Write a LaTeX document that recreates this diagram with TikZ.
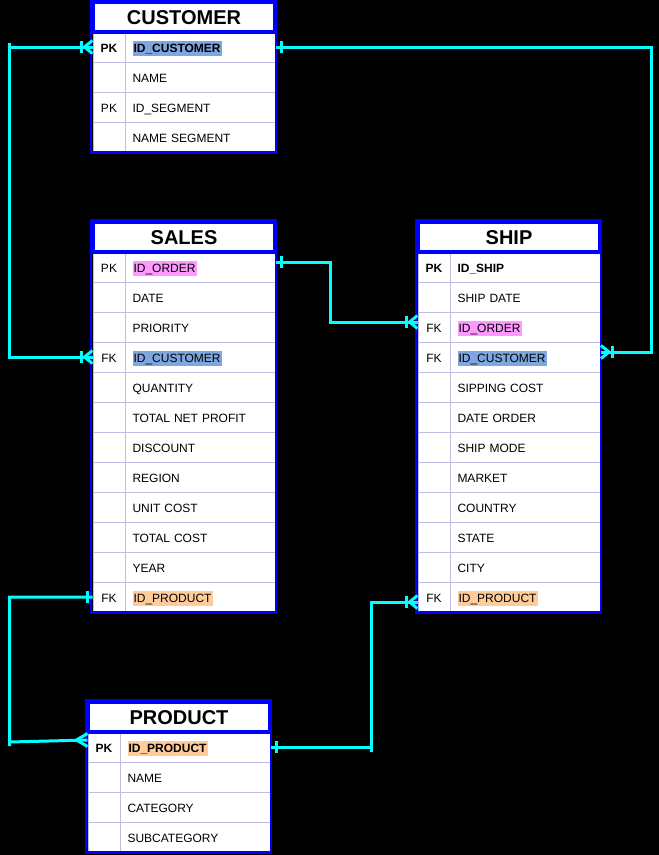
\documentclass[tikz,border=0pt]{standalone}
\usepackage{fontspec}
\setmainfont{Liberation Sans}
\definecolor{erblue}{RGB}{0,0,255}
\definecolor{linkcyan}{RGB}{0,255,255}
\definecolor{gridline}{RGB}{188,188,228}
\definecolor{custhl}{RGB}{126,166,224}
\definecolor{orderhl}{RGB}{255,153,255}
\definecolor{prodhl}{RGB}{255,204,153}
\newcommand{\hlfield}[2]{{\setlength{\fboxsep}{1pt}\colorbox{#1}{\vrule height 10pt depth 3pt width 0pt #2}}}
\tikzset{
    head/.style={draw=erblue, line width=4pt, fill=white, minimum width=182pt, minimum height=30pt, inner sep=0pt, text height=15pt, text depth=1pt, font=\fontsize{20}{24}\selectfont\bfseries},
    keycell/.style={draw=gridline, line width=1pt, fill=white, minimum width=32pt, minimum height=30pt, inner sep=0pt, text height=11pt, text depth=1pt, font=\fontsize{12}{14}\selectfont},
    pkcell/.style={keycell, font=\fontsize{12}{14}\selectfont\bfseries},
    fieldcell/.style={draw=gridline, line width=1pt, fill=white, anchor=west, minimum height=30pt, text width=136pt, align=left, inner xsep=7pt, inner ysep=0pt, text height=11pt, text depth=1pt, font=\fontsize{12}{14}\selectfont},
    tabframe/.style={draw=erblue, line width=2.5pt},
    erlink/.style={draw=linkcyan, line width=3pt},
    crowbar/.pic={\draw[erlink] (0,-6.5) -- (-8,0) -- (0,6.5); \draw[erlink] (-11,-6) -- (-11,6);},
    onebar/.pic={\draw[erlink] (-5.5,-6) -- (-5.5,6);},
    crow/.pic={\draw[erlink] (0,-6.5) -- (-11,0) -- (0,6.5);}
}
\begin{document}
\begin{tikzpicture}[x=1pt,y=-1pt]
        \path[use as bounding box, fill=black] (0,0) rectangle (659,855);
        % CUSTOMER
        \node[pkcell] (c1k) at (109,47) {PK};
        \node[fieldcell] (c1) at (125,47) {\hlfield{custhl}{\textbf{ID\_CUSTOMER}}};
        \node[keycell] (c2k) at (109,77) {};
        \node[fieldcell] (c2) at (125,77) {NAME};
        \node[keycell] (c3k) at (109,107) {PK};
        \node[fieldcell] (c3) at (125,107) {ID\_SEGMENT};
        \node[keycell] (c4k) at (109,137) {};
        \node[fieldcell] (c4) at (125,137) {NAME SEGMENT};
        \node[head] (customer) at (184,17) {CUSTOMER};
        \draw[tabframe] (customer.north west) rectangle (c4.south east);
        % SALES
        \node[keycell] (s1k) at (109,267) {PK};
        \node[fieldcell] (s1) at (125,267) {\hlfield{orderhl}{ID\_ORDER}};
        \node[keycell] (s2k) at (109,297) {};
        \node[fieldcell] (s2) at (125,297) {DATE};
        \node[keycell] (s3k) at (109,327) {};
        \node[fieldcell] (s3) at (125,327) {PRIORITY};
        \node[keycell] (s4k) at (109,357) {FK};
        \node[fieldcell] (s4) at (125,357) {\hlfield{custhl}{ID\_CUSTOMER}};
        \node[keycell] (s5k) at (109,387) {};
        \node[fieldcell] (s5) at (125,387) {QUANTITY};
        \node[keycell] (s6k) at (109,417) {};
        \node[fieldcell] (s6) at (125,417) {TOTAL NET PROFIT};
        \node[keycell] (s7k) at (109,447) {};
        \node[fieldcell] (s7) at (125,447) {DISCOUNT};
        \node[keycell] (s8k) at (109,477) {};
        \node[fieldcell] (s8) at (125,477) {REGION};
        \node[keycell] (s9k) at (109,507) {};
        \node[fieldcell] (s9) at (125,507) {UNIT COST};
        \node[keycell] (s10k) at (109,537) {};
        \node[fieldcell] (s10) at (125,537) {TOTAL COST};
        \node[keycell] (s11k) at (109,567) {};
        \node[fieldcell] (s11) at (125,567) {YEAR};
        \node[keycell] (s12k) at (109,597) {FK};
        \node[fieldcell] (s12) at (125,597) {\hlfield{prodhl}{ID\_PRODUCT}};
        \node[head] (sales) at (184,237) {SALES};
        \draw[tabframe] (sales.north west) rectangle (s12.south east);
        % SHIP
        \node[pkcell] (h1k) at (434,267) {PK};
        \node[fieldcell] (h1) at (450,267) {\textbf{ID\_SHIP}};
        \node[keycell] (h2k) at (434,297) {};
        \node[fieldcell] (h2) at (450,297) {SHIP DATE};
        \node[keycell] (h3k) at (434,327) {FK};
        \node[fieldcell] (h3) at (450,327) {\hlfield{orderhl}{ID\_ORDER}};
        \node[keycell] (h4k) at (434,357) {FK};
        \node[fieldcell] (h4) at (450,357) {\hlfield{custhl}{ID\_CUSTOMER}};
        \node[keycell] (h5k) at (434,387) {};
        \node[fieldcell] (h5) at (450,387) {SIPPING COST};
        \node[keycell] (h6k) at (434,417) {};
        \node[fieldcell] (h6) at (450,417) {DATE ORDER};
        \node[keycell] (h7k) at (434,447) {};
        \node[fieldcell] (h7) at (450,447) {SHIP MODE};
        \node[keycell] (h8k) at (434,477) {};
        \node[fieldcell] (h8) at (450,477) {MARKET};
        \node[keycell] (h9k) at (434,507) {};
        \node[fieldcell] (h9) at (450,507) {COUNTRY};
        \node[keycell] (h10k) at (434,537) {};
        \node[fieldcell] (h10) at (450,537) {STATE};
        \node[keycell] (h11k) at (434,567) {};
        \node[fieldcell] (h11) at (450,567) {CITY};
        \node[keycell] (h12k) at (434,597) {FK};
        \node[fieldcell] (h12) at (450,597) {\hlfield{prodhl}{ID\_PRODUCT}};
        \node[head] (ship) at (509,237) {SHIP};
        \draw[tabframe] (ship.north west) rectangle (h12.south east);
        % PRODUCT
        \node[pkcell] (p1k) at (104,747) {PK};
        \node[fieldcell] (p1) at (120,747) {\hlfield{prodhl}{\textbf{ID\_PRODUCT}}};
        \node[keycell] (p2k) at (104,777) {};
        \node[fieldcell] (p2) at (120,777) {NAME};
        \node[keycell] (p3k) at (104,807) {};
        \node[fieldcell] (p3) at (120,807) {CATEGORY};
        \node[keycell] (p4k) at (104,837) {};
        \node[fieldcell] (p4) at (120,837) {SUBCATEGORY};
        \node[head] (product) at (179,717) {PRODUCT};
        \draw[tabframe] (product.north west) rectangle (p4.south east);
        % relations
        \draw[erlink] (c1k.west) -- ++(-83,0) -- ++(0,-4) |- (s4k.west);
        \pic at (c1k.west) {crowbar};
        \pic at (s4k.west) {crowbar};
        \draw[erlink] (c1.east) -- ++(375,0) |- ([yshift=5pt]h4.east);
        \pic[rotate=180] at (c1.east) {onebar};
        \pic[rotate=180] at ([yshift=5pt]h4.east) {crowbar};
        \draw[erlink] ([yshift=5pt]s1.east) -- ++(54,0) |- ([yshift=5pt]h3k.west);
        \pic[rotate=180] at ([yshift=5pt]s1.east) {onebar};
        \pic at ([yshift=5pt]h3k.west) {crowbar};
        \draw[erlink] (s12k.west) -- ++(-83,0) -- ++(0,149) -- ++(0,-4) -- ([yshift=7pt]p1k.west);
        \pic at (s12k.west) {onebar};
        \pic at ([yshift=7pt]p1k.west) {crow};
        \draw[erlink] (p1.east) -- ++(100,0) -- ++(0,5) |- ([yshift=-5pt]h12k.west);
        \pic[rotate=180] at (p1.east) {onebar};
        \pic at ([yshift=-5pt]h12k.west) {crowbar};
    \end{tikzpicture}
\end{document}
